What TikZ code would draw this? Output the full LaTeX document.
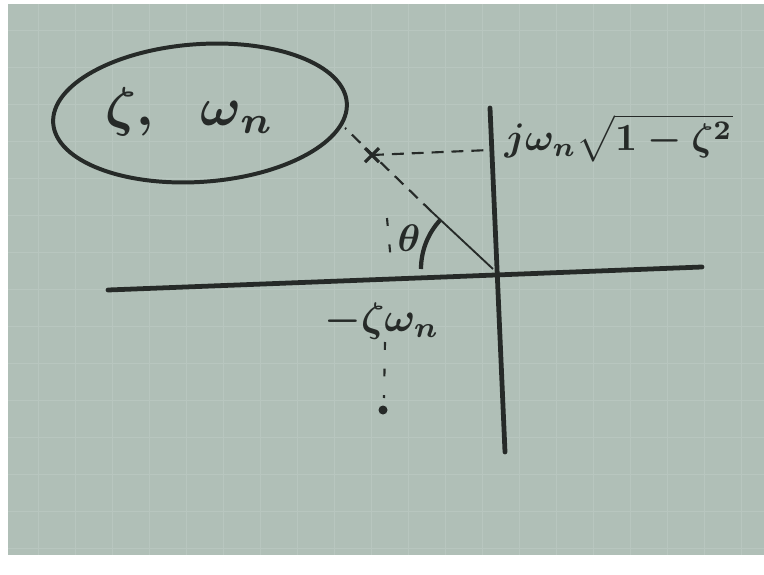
\documentclass[tikz,border=0pt]{standalone}
\usepackage{graphicx}
\usetikzlibrary{shapes.geometric,calc}
\definecolor{paper}{RGB}{176,191,183}
\definecolor{gridc}{RGB}{184,198,191}
\definecolor{ink}{RGB}{38,42,40}
\tikzset{
  axis/.style={draw=ink, line width=3.6pt, line cap=round},
  ray/.style={draw=ink, line width=1.4pt},
  dashray/.style={draw=ink, line width=1.6pt, dash pattern=on 9pt off 6pt},
  vdashline/.style={draw=ink, line width=1.6pt, dash pattern=on 6pt off 14pt},
  gridline/.style={draw=gridc, line width=0.5pt},
  lbl/.style={text=ink, inner sep=1pt}
}
\newcommand{\bigtxt}[1]{\scalebox{4.1}{\boldmath$#1$}}
\newcommand{\midtxt}[1]{\scalebox{2.9}{\boldmath$#1$}}
\begin{document}
\begin{tikzpicture}[x=0.0265cm,y=-0.0265cm]
\useasboundingbox (0,0) rectangle (764,575);
\fill[white] (0,0) rectangle (764,575);
\fill[paper] (8,4) rectangle (764,555);
\foreach \gx in {38,75,...,764} \draw[gridline] (\gx,4) -- (\gx,555);
\foreach \gy in {30,67,...,555} \draw[gridline] (8,\gy) -- (764,\gy);

% parameter ellipse
\node[ellipse, draw=ink, line width=3pt, minimum width=7.8cm, minimum height=3.65cm, rotate=4, lbl] (param) at (200,113) {};
\node[lbl] (paramtext) at (190,112) {\bigtxt{\zeta,\ \ \omega_n}};

% axes
\coordinate (xl) at (108,290);
\coordinate (xr) at (702,267);
\coordinate (yt) at (490,108);
\coordinate (yb) at (505,452);
\coordinate (O) at (493,269);
\draw[axis] (xl) -- (xr);
\draw[axis] (yt) -- (yb);

% pole ray
\coordinate (P) at (372,155);
\coordinate (R) at (345,128);
\coordinate (Rs) at (432,212);
\coordinate (Ay) at (490,150);
\draw[ray] (O) -- (Rs);
\draw[dashray] (Rs) -- (R);
\draw[dashray] (P) -- (Ay);
\draw[ink, line width=2.4pt] ($(P)+(-7,-7)$) -- ($(P)+(7,7)$) ($(P)+(-7,7)$) -- ($(P)+(7,-7)$);

% angle arc
\draw[ink, line width=3.2pt] ($(O)+(-72,0)$) arc[start angle=180, end angle=223, radius=72];
\node[lbl] (theta) at (409,238) {\midtxt{\theta}};

% labels
\node[lbl, anchor=west] (jw) at (503,138) {\midtxt{j\omega_n\sqrt{1-\zeta^2}}};
\node[lbl] (sw) at (382,321) {\scalebox{3.1}{\boldmath$-\zeta\omega_n$}};

% conjugate pole
\coordinate (Q) at (383,410);
\coordinate (v1) at (387,218);
\coordinate (v2) at (391,262);
\coordinate (v3) at (385,342);
\coordinate (v4) at (384,398);
\draw[vdashline] (v1) -- (v2);
\draw[vdashline] (v3) -- (v4);
\fill[ink] (Q) circle (4.5);
\end{tikzpicture}
\end{document}
